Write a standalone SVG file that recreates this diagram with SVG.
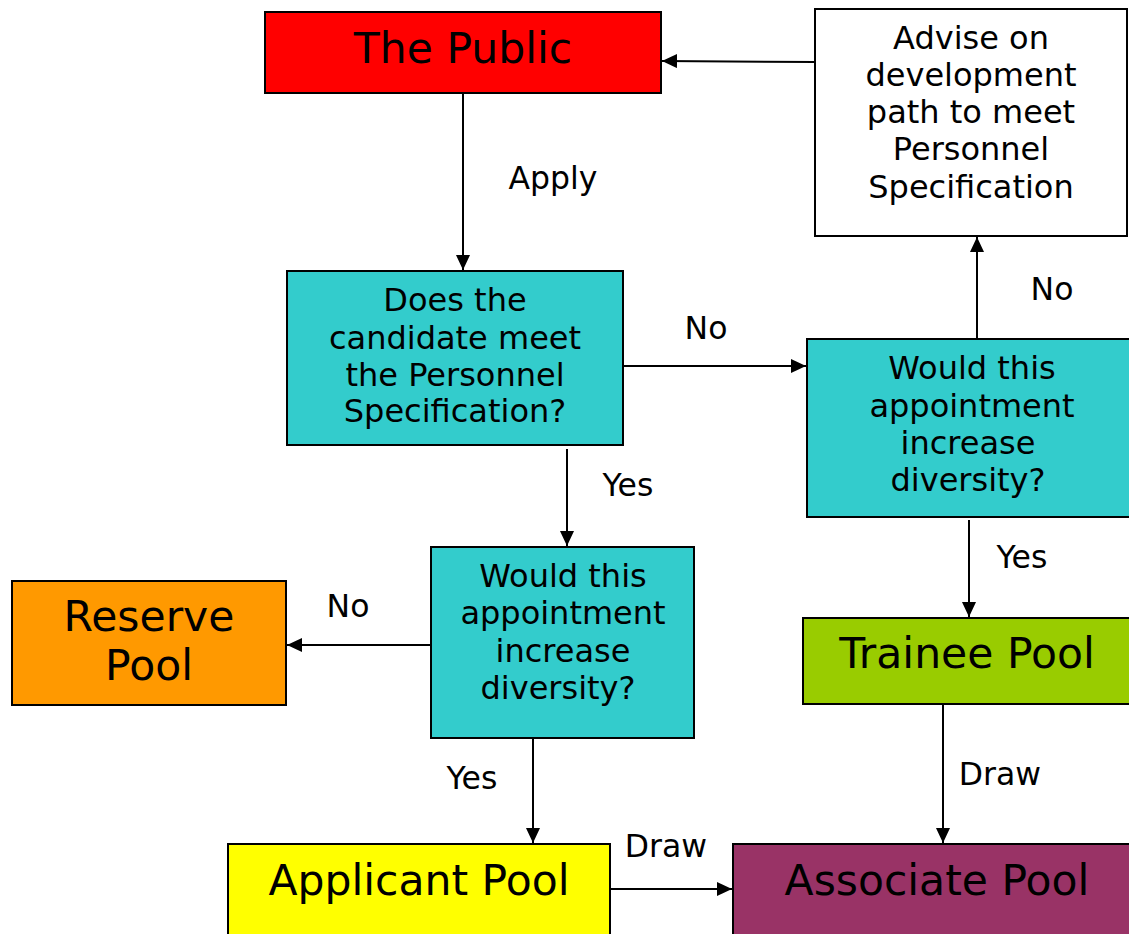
<svg xmlns="http://www.w3.org/2000/svg" width="1129" height="934" viewBox="0 0 1129 934">
<defs>
<marker id="ah" viewBox="0 0 15 14" refX="15" refY="7" markerWidth="15" markerHeight="14" markerUnits="userSpaceOnUse" orient="auto">
<path d="M0,0 L15,7 L0,14 Z" fill="#000"/>
</marker>
</defs>
<style>
rect{stroke:#000;stroke-width:2}
text{font-family:"DejaVu Sans",sans-serif;fill:#000;text-anchor:middle}
.t{font-size:32px}
.big{font-size:42.5px}
.lbl{font-size:31.5px}
.c line{stroke:#000;stroke-width:2;marker-end:url(#ah)}
</style>
<rect width="1129" height="934" fill="#fff" style="stroke:none"/>
<g class="c">
<line x1="815" y1="62" x2="662" y2="61"/>
<line x1="463" y1="94" x2="463" y2="270"/>
<line x1="623" y1="366" x2="806" y2="366"/>
<line x1="977" y1="339" x2="977" y2="237"/>
<line x1="567" y1="449" x2="567" y2="546"/>
<line x1="969" y1="520" x2="969" y2="617"/>
<line x1="431" y1="645" x2="287" y2="645"/>
<line x1="533" y1="739" x2="533" y2="843"/>
<line x1="943" y1="705" x2="943" y2="843"/>
<line x1="611" y1="889" x2="732" y2="889"/>
<text class="lbl" x="553" y="189">Apply</text>
<text class="lbl" x="706" y="339">No</text>
<text class="lbl" x="1052" y="300">No</text>
<text class="lbl" x="628" y="496">Yes</text>
<text class="lbl" x="1022" y="568">Yes</text>
<text class="lbl" x="348" y="617">No</text>
<text class="lbl" x="472" y="789">Yes</text>
<text class="lbl" x="1000" y="785">Draw</text>
<text class="lbl" x="666" y="857">Draw</text>
</g>
<g id="public">
<rect x="265" y="12" width="396" height="81" fill="#FF0000"/>
<text class="big" x="463" y="63">The Public</text>
</g>
<g id="advise">
<rect x="815" y="9" width="312" height="227" fill="#FFFFFF"/>
<text class="t" x="971" y="49">Advise on</text>
<text class="t" x="971" y="86">development</text>
<text class="t" x="971" y="123">path to meet</text>
<text class="t" x="971" y="160">Personnel</text>
<text class="t" x="971" y="198">Specification</text>
</g>
<g id="meet">
<rect x="287" y="271" width="336" height="174" fill="#33CCCC"/>
<text class="t" x="455" y="311">Does the</text>
<text class="t" x="455" y="349">candidate meet</text>
<text class="t" x="455" y="386">the Personnel</text>
<text class="t" x="455" y="422">Specification?</text>
</g>
<g id="diversity-right">
<rect x="807" y="339" width="323" height="178" fill="#33CCCC"/>
<text class="t" x="972" y="379">Would this</text>
<text class="t" x="972" y="417">appointment</text>
<text class="t" x="968" y="454">increase</text>
<text class="t" x="968" y="491">diversity?</text>
</g>
<g id="diversity-mid">
<rect x="431" y="547" width="263" height="191" fill="#33CCCC"/>
<text class="t" x="563" y="587">Would this</text>
<text class="t" x="563" y="624">appointment</text>
<text class="t" x="563" y="662">increase</text>
<text class="t" x="558" y="699">diversity?</text>
</g>
<g id="reserve">
<rect x="12" y="581" width="274" height="124" fill="#FF9900"/>
<text class="big" x="149" y="631">Reserve</text>
<text class="big" x="149" y="680">Pool</text>
</g>
<g id="trainee">
<rect x="803" y="618" width="327" height="86" fill="#99CC00"/>
<text class="big" x="967" y="668">Trainee Pool</text>
</g>
<g id="applicant">
<rect x="228" y="844" width="382" height="95" fill="#FFFF00"/>
<text class="big" x="419" y="895">Applicant Pool</text>
</g>
<g id="associate">
<rect x="733" y="844" width="397" height="95" fill="#993366"/>
<text class="big" x="937" y="895">Associate Pool</text>
</g>
</svg>
